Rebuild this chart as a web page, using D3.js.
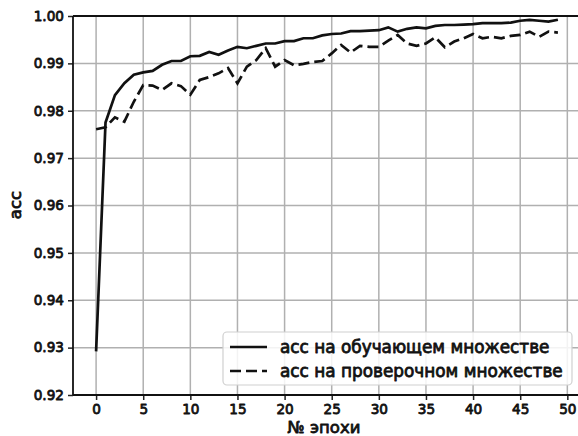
<!DOCTYPE html>
<html><head><meta charset="utf-8">
<script src="https://cdn.jsdelivr.net/npm/d3@7"></script>
<style>body{margin:0;background:#fff}svg{display:block}</style>
</head><body>
<svg id="c" width="578" height="436"></svg>
<script>
const epochs = d3.range(0, 50);
const trainAcc = [0.9292,0.9775,0.9833,0.9858,0.9876,0.9881,0.9884,0.9897,0.9905,0.9905,
  0.9915,0.9916,0.9924,0.9918,0.9927,0.9935,0.9932,0.9937,0.9942,0.9942,
  0.9947,0.9947,0.9953,0.9953,0.9959,0.9962,0.9963,0.9968,0.9968,0.9969,
  0.9970,0.9976,0.9967,0.9973,0.9976,0.9974,0.9979,0.9981,0.9981,0.9982,
  0.9983,0.9985,0.9985,0.9985,0.9986,0.9990,0.9992,0.9990,0.9988,0.9992];
const valAcc = [0.9761,0.9765,0.9786,0.9777,0.9819,0.9854,0.9853,0.9844,0.9858,0.9852,
  0.9834,0.9865,0.9871,0.9879,0.9890,0.9858,0.9893,0.9907,0.9932,0.9893,
  0.9907,0.9896,0.9899,0.9903,0.9905,0.9921,0.9939,0.9923,0.9937,0.9935,
  0.9935,0.9948,0.9960,0.9942,0.9937,0.9942,0.9955,0.9934,0.9946,0.9953,
  0.9962,0.9953,0.9956,0.9953,0.9958,0.9960,0.9967,0.9956,0.9967,0.9965];
const xTicks = [0,5,10,15,20,25,30,35,40,45,50];
const yTicks = [0.92,0.93,0.94,0.95,0.96,0.97,0.98,0.99,1.00];
const seriesNames = ["acc на обучающем множестве","acc на проверочном множестве"];
const xLabel = "№ эпохи", yLabel = "acc";

const svg = d3.select("#c");
const FONT = "DejaVu Sans, sans-serif";
const INK = "#111";
const pTop = 16, pBottom = 395, pLeft = 73, pRight = 581;
const x = d3.scaleLinear().domain([-2.45, 51.45]).range([pLeft, pRight]);
const y = d3.scaleLinear().domain([0.92, 1.0]).range([pBottom, pTop]);
const DASH = "11,5";

function styleText(sel, size) {
  sel.attr("font-family", FONT).attr("font-size", size).attr("fill", INK)
     .attr("stroke", INK).attr("stroke-width", 0.8).attr("stroke-linejoin","round");
}
function fitWidth(sel, target) {
  const n = sel.node(); const s = +sel.attr("font-size");
  const w = n.getComputedTextLength();
  return s * target / w;
}

// grid
svg.append("g").selectAll("line").data(xTicks).join("line")
  .attr("x1", d=>x(d)).attr("x2", d=>x(d)).attr("y1", pTop).attr("y2", pBottom)
  .attr("stroke", "#b0b0b0").attr("stroke-width", 1.5);
svg.append("g").selectAll("line").data(yTicks).join("line")
  .attr("y1", d=>y(d)).attr("y2", d=>y(d)).attr("x1", pLeft).attr("x2", pRight)
  .attr("stroke", "#b0b0b0").attr("stroke-width", 1.5);

// lines
const line = d3.line().x((d,i)=>x(epochs[i])).y(d=>y(d));
svg.append("path").datum(valAcc).attr("d", line).attr("fill","none")
  .attr("stroke",INK).attr("stroke-width",2.7).attr("stroke-dasharray",DASH);
svg.append("path").datum(trainAcc).attr("d", line).attr("fill","none")
  .attr("stroke",INK).attr("stroke-width",2.7);

// axes
const xAxis = d3.axisBottom(x).tickValues(xTicks).tickSize(5).tickPadding(4).tickFormat(d3.format("d"));
const yAxis = d3.axisLeft(y).tickValues(yTicks).tickSize(5).tickPadding(4).tickFormat(d3.format(".2f"));
const gx = svg.append("g").attr("transform", `translate(0,${pBottom})`).call(xAxis);
const gy = svg.append("g").attr("transform", `translate(${pLeft},0)`).call(yAxis);
[gx, gy].forEach(g => {
  g.select(".domain").remove();
  g.selectAll(".tick line").attr("stroke","#222").attr("stroke-width",1.5);
  styleText(g.selectAll("text"), 13.6);
});
// spines
svg.append("line").attr("x1",pLeft).attr("x2",pLeft).attr("y1",pTop).attr("y2",pBottom).attr("stroke",INK).attr("stroke-width",1.8);
svg.append("line").attr("x1",pLeft).attr("x2",pRight).attr("y1",pBottom).attr("y2",pBottom).attr("stroke",INK).attr("stroke-width",1.8);
svg.append("line").attr("x1",pLeft).attr("x2",pRight).attr("y1",pTop).attr("y2",pTop).attr("stroke",INK).attr("stroke-width",1.8);

// axis labels
const xl = svg.append("text").attr("x", 324).attr("y", 433).attr("text-anchor","middle").text(xLabel);
styleText(xl, 16);
const labSize = fitWidth(xl, 73);
xl.attr("font-size", labSize);
const yl = svg.append("text").attr("transform","translate(21,205) rotate(-90)").attr("text-anchor","middle").text(yLabel);
styleText(yl, labSize);

// legend
const lg = svg.append("g");
lg.append("rect").attr("x",223).attr("y",332).attr("width",349).attr("height",53).attr("rx",4)
  .attr("fill","#fff").attr("fill-opacity",0.85).attr("stroke","#d0d0d0").attr("stroke-width",1.2);
const legY = [347, 371];
seriesNames.forEach((name,i) => {
  lg.append("line").attr("x1",230).attr("x2",267).attr("y1",legY[i]).attr("y2",legY[i])
    .attr("stroke",INK).attr("stroke-width",2.7).attr("stroke-dasharray", i ? DASH : null);
  const t = lg.append("text").attr("class","lt").attr("x",280).attr("y",legY[i]).attr("dy","0.35em").text(name);
  styleText(t, 16);
});
const legSize = fitWidth(d3.select(lg.selectAll(".lt").nodes()[1]), 283);
lg.selectAll(".lt").attr("font-size", legSize);
</script>
</body></html>
